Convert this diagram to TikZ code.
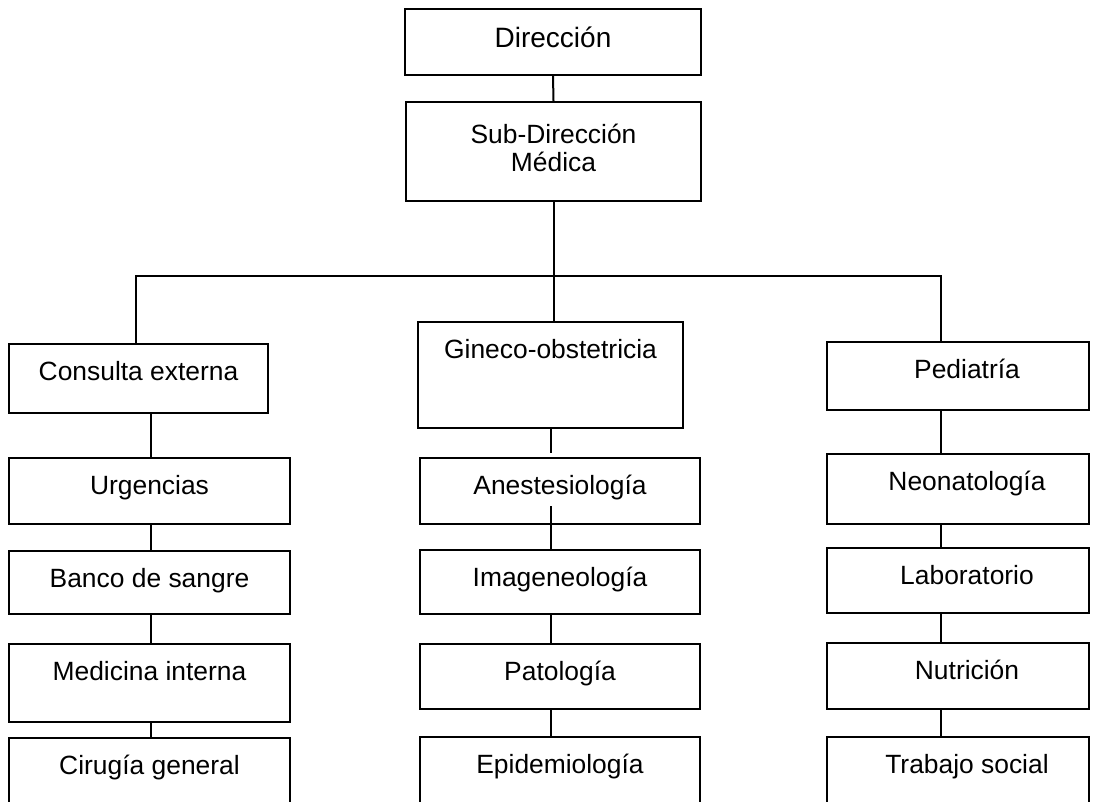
\documentclass[tikz,border=0pt]{standalone}
\usepackage{fontspec}
\setmainfont{Liberation Sans}
\begin{document}
\begin{tikzpicture}[x=1pt,y=-1pt,line width=2pt,
  font=\fontsize{26.4}{28}\selectfont,
  area/.style 2 args={draw,anchor=north west,inner sep=0pt,text width=#1,align=flush center,text height=36pt,text depth=#2},
  derecha/.style={execute at begin node={\hspace*{18pt}}}]

\path[use as bounding box,clip] (0,0) rectangle (1102,802);

% direccion
\node[area={296pt}{27pt},font=\fontsize{28}{30}\selectfont,text height=39pt] (dir) at (404,8) {Dirección};
\node[area={295pt}{57pt},text height=42pt] (subdir) at (405,101) {Sub-Dirección\\Médica};

% columna izquierda
\node[area={259pt}{33pt}] (consulta) at (8,343) {Consulta externa};
\node[area={281pt}{30pt}] (urg) at (8,457) {Urgencias};
\node[area={281pt}{27pt}] (banco) at (8,550) {Banco de sangre};
\node[area={281pt}{42pt}] (medicina) at (8,643) {Medicina interna};
\node[area={281pt}{84pt}] (cirugia) at (8,737) {Cirugía general};

% columna central
\node[area={265pt}{70pt}] (gineco) at (417,321) {Gineco-obstetricia};
\node[area={280pt}{30pt}] (anest) at (419,457) {Anestesiología};
\node[area={280pt}{28pt}] (imagen) at (419,549) {Imageneología};
\node[area={280pt}{29pt}] (pato) at (419,643) {Patología};
\node[area={280pt}{84pt}] (epid) at (419,736) {Epidemiología};

% columna derecha
\node[area={262pt}{32pt},derecha] (pedia) at (826,341) {Pediatría};
\node[area={262pt}{34pt},derecha] (neo) at (826,453) {Neonatología};
\node[area={262pt}{29pt},derecha] (lab) at (826,547) {Laboratorio};
\node[area={262pt}{30pt},derecha] (nutri) at (826,642) {Nutrición};
\node[area={262pt}{84pt},derecha] (trabajo) at (826,736) {Trabajo social};

% lineas
\coordinate (bus) at (552,276);
\draw (dir.south) -- (subdir.north);
\draw (subdir.south) -- (subdir.south |- gineco.north);
\draw ([xshift=128pt]consulta.north west) |- (bus) -| ([xshift=115pt]pedia.north west);

\foreach \a/\b in {consulta/urg,urg/banco,banco/medicina,medicina/cirugia}
  \draw ([xshift=143pt]\a.south west) -- ([xshift=143pt]\b.north west);

\draw ([xshift=134pt]gineco.south west) -- ([xshift=132pt,yshift=4pt]anest.north west);
\draw ([xshift=132pt,yshift=19pt]anest.south west) -- ([xshift=132pt]imagen.north west);
\foreach \a/\b in {imagen/pato,pato/epid}
  \draw ([xshift=132pt]\a.south west) -- ([xshift=132pt]\b.north west);

\foreach \a/\b in {pedia/neo,neo/lab,lab/nutri,nutri/trabajo}
  \draw ([xshift=115pt]\a.south west) -- ([xshift=115pt]\b.north west);

\end{tikzpicture}
\end{document}
